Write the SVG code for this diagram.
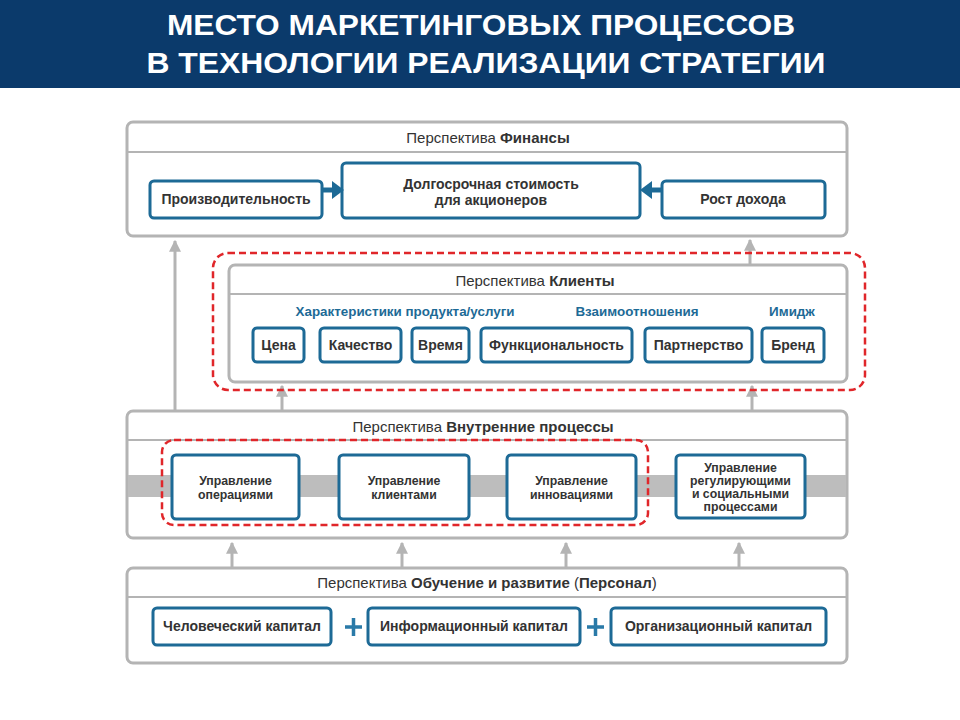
<svg xmlns="http://www.w3.org/2000/svg" width="960" height="720" viewBox="0 0 960 720">
<defs>
<style>
.hdr{fill:#0b3a6b}
.title{font-family:"Liberation Sans",Arial,sans-serif;font-weight:bold;font-size:29px;fill:#fff;text-anchor:middle}
.panel{fill:#fff;stroke:#b4b4b4;stroke-width:3}
.sep{stroke:#b4b4b4;stroke-width:2}
.ptitle{font-family:"Liberation Sans",Arial,sans-serif;font-size:15px;fill:#333;text-anchor:middle}
.b{font-weight:bold}
.box{fill:#fff;stroke:#1d6a96;stroke-width:3}
.bt{font-family:"Liberation Sans",Arial,sans-serif;font-weight:bold;font-size:14px;fill:#333;text-anchor:middle}
.st{font-family:"Liberation Sans",Arial,sans-serif;font-weight:bold;font-size:12.3px;fill:#333;text-anchor:middle}
.cat{font-family:"Liberation Sans",Arial,sans-serif;font-weight:bold;font-size:13.4px;fill:#1d6a96;text-anchor:middle}
.red{fill:none;stroke:#e0262a;stroke-width:2.5;stroke-dasharray:7 4}
.ga{stroke:#b4b4b4;stroke-width:3;fill:none;marker-end:url(#gh)}
.ba{stroke:#1d6a96;stroke-width:5;fill:none}
.plus{stroke:#2a7aa8;stroke-width:3.5;fill:none}
</style>
<marker id="gh" viewBox="0 0 10 10" refX="9" refY="5" markerWidth="4" markerHeight="4" orient="auto" markerUnits="strokeWidth"><path d="M0,0 L10,5 L0,10 z" fill="#b4b4b4"/></marker>
</defs>
<rect class="hdr" x="0" y="0" width="960" height="88"/>
<text class="title" x="481" y="35" textLength="628" lengthAdjust="spacingAndGlyphs">МЕСТО МАРКЕТИНГОВЫХ ПРОЦЕССОВ</text>
<text class="title" x="486" y="73" textLength="679" lengthAdjust="spacingAndGlyphs">В ТЕХНОЛОГИИ РЕАЛИЗАЦИИ СТРАТЕГИИ</text>

<g id="connectors">
<line class="ga" x1="175" y1="411" x2="175" y2="241"/>
<line class="ga" x1="750" y1="265" x2="750" y2="240"/>
<line class="ga" x1="282" y1="411" x2="282" y2="386"/>
<line class="ga" x1="752" y1="411" x2="752" y2="386"/>
<line class="ga" x1="232" y1="568" x2="232" y2="543"/>
<line class="ga" x1="402" y1="568" x2="402" y2="543"/>
<line class="ga" x1="566" y1="568" x2="566" y2="543"/>
<line class="ga" x1="739" y1="568" x2="739" y2="543"/>
</g>

<g id="finance">
<rect class="panel" x="127" y="122" width="720" height="114" rx="6"/>
<line class="sep" x1="128" y1="152" x2="846" y2="152"/>
<text class="ptitle" x="488" y="143">Перспектива <tspan class="b">Финансы</tspan></text>
</g>
<g id="f-prod"><rect class="box" x="150" y="181" width="172" height="37" rx="4"/><text class="bt" x="236" y="204">Производительность</text></g>
<g id="f-long"><rect class="box" x="342" y="163" width="298" height="55" rx="4"/><text class="bt" x="491" y="189">Долгосрочная стоимость</text><text class="bt" x="491" y="205">для акционеров</text></g>
<g id="f-growth"><rect class="box" x="662" y="181" width="163" height="37" rx="4"/><text class="bt" x="743" y="204">Рост дохода</text></g>
<g id="f-arrows">
<line class="ba" x1="322" y1="190" x2="334" y2="190"/><path d="M332,181 L344,190 L332,199 z" fill="#1d6a96"/>
<line class="ba" x1="662" y1="190" x2="650" y2="190"/><path d="M652,181 L640,190 L652,199 z" fill="#1d6a96"/>
</g>

<g id="clients">
<rect class="panel" x="229" y="265" width="618" height="117" rx="6"/>
<line class="sep" x1="230" y1="294" x2="846" y2="294"/>
<text class="ptitle" x="535" y="286">Перспектива <tspan class="b">Клиенты</tspan></text>
<text class="cat" x="405" y="316">Характеристики продукта/услуги</text>
<text class="cat" x="637" y="316">Взаимоотношения</text>
<text class="cat" x="792" y="316">Имидж</text>
<rect class="red" x="213" y="253" width="652" height="137" rx="15"/>
</g>
<g id="c-price"><rect class="box" x="253" y="328" width="51" height="34" rx="4"/><text class="bt" x="278.5" y="350">Цена</text></g>
<g id="c-quality"><rect class="box" x="320" y="328" width="81" height="34" rx="4"/><text class="bt" x="360.5" y="350">Качество</text></g>
<g id="c-time"><rect class="box" x="412" y="328" width="57" height="34" rx="4"/><text class="bt" x="440.5" y="350">Время</text></g>
<g id="c-func"><rect class="box" x="481" y="328" width="151" height="34" rx="4"/><text class="bt" x="556.5" y="350">Функциональность</text></g>
<g id="c-partner"><rect class="box" x="645" y="328" width="107" height="34" rx="4"/><text class="bt" x="698.5" y="350">Партнерство</text></g>
<g id="c-brand"><rect class="box" x="762" y="328" width="62" height="34" rx="4"/><text class="bt" x="793" y="350">Бренд</text></g>

<g id="internal">
<rect class="panel" x="127" y="411" width="720" height="127" rx="6"/>
<line class="sep" x1="128" y1="440" x2="846" y2="440"/>
<text class="ptitle" x="483" y="432">Перспектива <tspan class="b">Внутренние процессы</tspan></text>
<rect x="128" y="475" width="718" height="22" fill="#bdbdbd"/>
<rect class="red" x="162" y="440" width="486" height="85" rx="12"/>
</g>
<g id="i-ops"><rect class="box" x="172" y="455" width="127" height="64" rx="4"/><text class="st" x="235.5" y="485">Управление</text><text class="st" x="235.5" y="499">операциями</text></g>
<g id="i-cli"><rect class="box" x="339" y="455" width="130" height="64" rx="4"/><text class="st" x="404" y="485">Управление</text><text class="st" x="404" y="499">клиентами</text></g>
<g id="i-inn"><rect class="box" x="507" y="455" width="129" height="64" rx="4"/><text class="st" x="571.5" y="485">Управление</text><text class="st" x="571.5" y="499">инновациями</text></g>
<g id="i-reg"><rect class="box" x="676" y="455" width="129" height="63" rx="4"/><text class="st" x="740.5" y="472">Управление</text><text class="st" x="740.5" y="485">регулирующими</text><text class="st" x="740.5" y="498">и социальными</text><text class="st" x="740.5" y="511">процессами</text></g>

<g id="learning">
<rect class="panel" x="127" y="568" width="720" height="95" rx="6"/>
<line class="sep" x1="128" y1="597" x2="846" y2="597"/>
<text class="ptitle" x="487" y="588">Перспектива <tspan class="b">Обучение и развитие </tspan>(<tspan class="b">Персонал</tspan>)</text>
<path class="plus" d="M345,627 H362 M353.5,618 V636"/>
<path class="plus" d="M587,627 H604 M595.5,618 V636"/>
</g>
<g id="l-human"><rect class="box" x="153" y="608" width="178" height="37" rx="4"/><text class="bt" x="242" y="631">Человеческий капитал</text></g>
<g id="l-info"><rect class="box" x="368" y="608" width="212" height="37" rx="4"/><text class="bt" x="474" y="631">Информационный капитал</text></g>
<g id="l-org"><rect class="box" x="611" y="608" width="215" height="37" rx="4"/><text class="bt" x="718.5" y="631">Организационный  капитал</text></g>
</svg>
